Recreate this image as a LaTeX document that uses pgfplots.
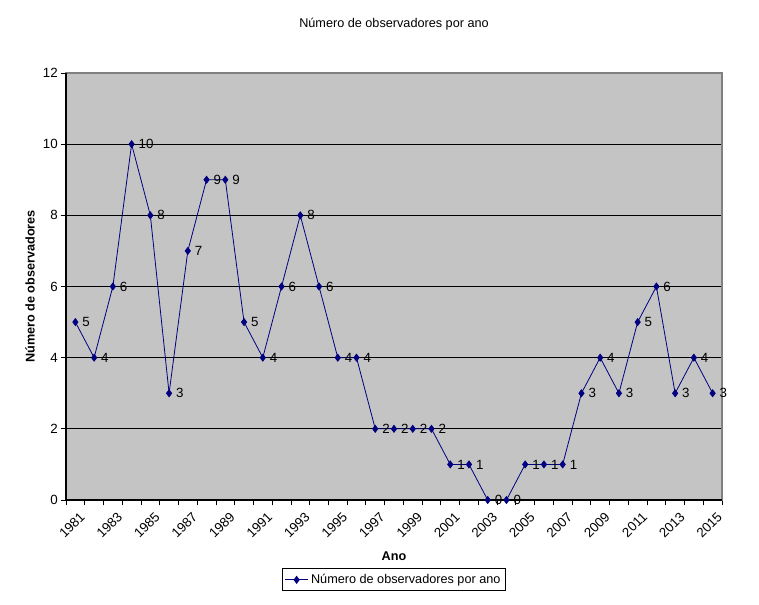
\documentclass[border=0pt]{standalone}
\usepackage{pgfplots}
\pgfplotsset{compat=1.18}
\usepackage{fontspec}
\setmainfont{Liberation Sans}
\definecolor{plotbg}{RGB}{196,196,196}
\definecolor{navy}{RGB}{0,0,128}
\definecolor{frame}{RGB}{128,128,128}
\begin{document}
\begin{tikzpicture}[x=0.75pt,y=0.75pt]
\path[use as bounding box] (0,0) rectangle (759,604);
\begin{axis}[
  at={(66*0.75pt,104*0.75pt)}, anchor=south west,
  scale only axis,
  width=492pt, height=320.25pt,
  xmin=-0.5, xmax=34.5, ymin=0, ymax=12,
  /pgf/number format/assume math mode=true,
  axis background/.style={fill=plotbg},
  axis line style={frame, line width=0.8pt},
  font=\fontsize{9.5}{11}\selectfont,
  xtick={0,2,...,34},
  xticklabels={1981,1983,1985,1987,1989,1991,1993,1995,1997,1999,2001,2003,2005,2007,2009,2011,2013,2015},
  major x tick style={draw=none},
  minor xtick={-0.5,0.5,...,34.5},
  minor tick length=4pt,
  minor x tick style={black, line width=0.6pt},
  xticklabel style={rotate=45, anchor=north east, inner sep=1pt, xshift=0pt, yshift=-4pt, font=\fontsize{10}{12}\selectfont},
  ytick={2,4,...,10},
  extra y ticks={0,12},
  extra y tick style={grid=none},
  ymajorgrids=true,
  grid style={black, line width=0.6pt},
  tick align=outside,
  major tick length=4pt,
  y tick style={black, line width=0.6pt},
  xtick pos=bottom, ytick pos=left,
  yticklabel style={inner sep=2pt, font=\fontsize{10}{12}\selectfont},
  xlabel={\bfseries Ano},
  xlabel style={at={(axis description cs:0.5,-0.131)}, anchor=center},
  ylabel={\bfseries Número de observadores},
  ylabel style={at={(axis description cs:-0.055,0.5)}, anchor=center, rotate=0},
  title={Número de observadores por ano},
  title style={at={(axis description cs:0.5,1.096)}, anchor=center},
  legend style={at={(axis description cs:0.5,-0.187)}, anchor=center,
    draw=black, line width=0.6pt, font=\fontsize{9.5}{11}\selectfont,
    inner sep=2pt, legend cell align=left},
  legend image post style={line width=0.6pt},
  nodes near coords,
  every node near coord/.append style={anchor=west, black, font=\fontsize{10}{12}\selectfont, inner sep=2pt, xshift=3pt},
  clip=false,
]
\addplot[navy, line width=0.6pt, mark=diamond*, mark size=2.6pt, mark options={fill=navy, draw=navy}]
coordinates {
(0,5) (1,4) (2,6) (3,10) (4,8) (5,3) (6,7) (7,9) (8,9) (9,5)
(10,4) (11,6) (12,8) (13,6) (14,4) (15,4) (16,2) (17,2) (18,2) (19,2)
(20,1) (21,1) (22,0) (23,0) (24,1) (25,1) (26,1) (27,3) (28,4) (29,3)
(30,5) (31,6) (32,3) (33,4) (34,3)
};
\addlegendentry{Número de observadores por ano}
\draw[black, line width=0.8pt] (axis description cs:0,1) -- (axis description cs:0,0) -- (axis description cs:1,0);
\end{axis}
\end{tikzpicture}
\end{document}
